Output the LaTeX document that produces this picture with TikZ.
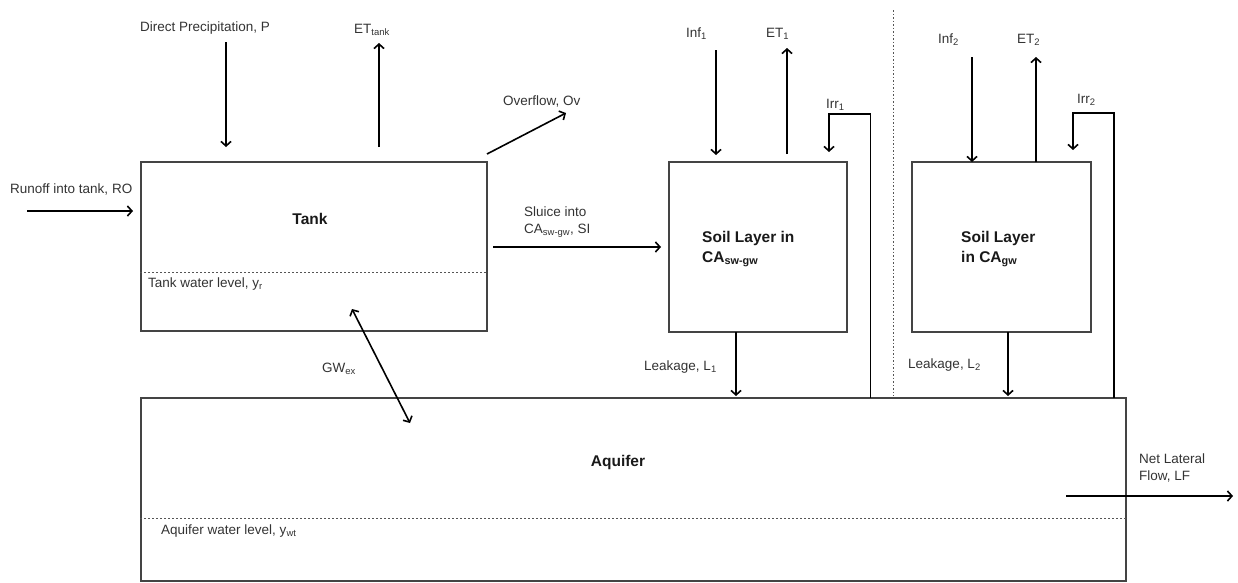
\documentclass[tikz,border=0pt]{standalone}
\usepackage{fontspec}
\setmainfont{Liberation Sans}
\usetikzlibrary{arrows.meta}
\definecolor{boxline}{HTML}{444444}
\definecolor{labeltext}{HTML}{333333}
\definecolor{dotline}{HTML}{555555}
\tikzset{
  box/.style={draw=boxline, line width=1.1pt, rectangle, inner sep=0pt},
  flow/.style={draw=black, line width=1.6pt, -{Straight Barb[length=4.5pt,width=10pt,line width=1.6pt]}},
  flowboth/.style={draw=black, line width=1.6pt, {Straight Barb[length=4.5pt,width=10pt,line width=1.6pt]}-{Straight Barb[length=4.5pt,width=10pt,line width=1.6pt]}},
  lbl/.style={font=\fontsize{13.5}{17}\selectfont, text=labeltext, inner sep=0pt, anchor=west, align=left},
  title/.style={font=\fontsize{15.5}{20}\selectfont\bfseries, text=black!90, inner sep=0pt, align=left},
  level/.style={draw=dotline, line width=0.7pt, dash pattern=on 2pt off 2pt},
  divider/.style={draw=dotline, line width=0.7pt, dash pattern=on 1.5pt off 2pt}
}
\begin{document}
\begin{tikzpicture}[x=1pt,y=-1pt]
\useasboundingbox (0,0) rectangle (1238,582);
% boxes
\node[box, minimum width=346pt, minimum height=169pt] (tank) at (314,246.5) {};
\node[box, minimum width=178pt, minimum height=170pt] (soil1) at (758,247) {};
\node[box, minimum width=179pt, minimum height=170pt] (soil2) at (1001.5,247) {};
\node[box, minimum width=985pt, minimum height=183pt] (aq) at (633.5,489.5) {};
% titles
\node[title, anchor=center] (tanklbl) at (310,219) {Tank};
\node[title, anchor=west] (soil1lbl) at (702,249) {Soil Layer in\\CA\textsubscript{sw-gw}};
\node[title, anchor=west] (soil2lbl) at (961,249) {Soil Layer\\in CA\textsubscript{gw}};
\node[title, anchor=center] (aqlbl) at (618,462) {Aquifer};
% water levels
\draw[level] (tank.west |- 0,272.5) coordinate (tl1) -- (tank.east |- 0,272.5) coordinate (tl2);
\draw[level] (aq.west |- 0,518) coordinate (al1) -- (aq.east |- 0,518) coordinate (al2);
\node[lbl] (tanklev) at (148,284) {Tank water level, y\textsubscript{r}};
\node[lbl] (aqlev) at (161,531) {Aquifer water level, y\textsubscript{wt}};
% divider
\coordinate (d1) at (893.5,10);
\coordinate (d2) at (893.5,396);
\draw[divider] (d1) -- (d2);
% labels
\node[lbl] (plbl) at (140,28) {Direct Precipitation, P};
\node[lbl] (etlbl) at (354,30) {ET\textsubscript{tank}};
\node[lbl] (ovlbl) at (503,101) {Overflow, Ov};
\node[lbl] (rolbl) at (10,189) {Runoff into tank, RO};
\node[lbl] (sllbl) at (524,222) {Sluice into\\CA\textsubscript{sw-gw}, SI};
\node[lbl] (gwlbl) at (322,369) {GW\textsubscript{ex}};
\node[lbl] (inf1lbl) at (686,34) {Inf\textsubscript{1}};
\node[lbl] (et1lbl) at (766,34) {ET\textsubscript{1}};
\node[lbl] (irr1lbl) at (826,105) {Irr\textsubscript{1}};
\node[lbl] (inf2lbl) at (938,40) {Inf\textsubscript{2}};
\node[lbl] (et2lbl) at (1017,40) {ET\textsubscript{2}};
\node[lbl] (irr2lbl) at (1077,100) {Irr\textsubscript{2}};
\node[lbl] (l1lbl) at (644,367) {Leakage, L\textsubscript{1}};
\node[lbl] (l2lbl) at (908,365) {Leakage, L\textsubscript{2}};
\node[lbl] (lflbl) at (1139,468) {Net Lateral\\Flow, LF};
% coordinates for free ends
\coordinate (p1) at (226,42);  \coordinate (p2) at (226,147);
\coordinate (e1) at (379,147); \coordinate (e2) at (379,43);
\coordinate (o1) at (487,154); \coordinate (o2) at (566,113);
\coordinate (r1) at (27,211);  \coordinate (r2) at (133,211);
\coordinate (s1) at (493,247); \coordinate (s2) at (661,247);
\coordinate (g1) at (352,309); \coordinate (g2) at (410,423);
\coordinate (i1a) at (716,50); \coordinate (i1b) at (716,155);
\coordinate (t1a) at (787,154); \coordinate (t1b) at (787,48);
\coordinate (q1a) at (870.5,398); \coordinate (q1b) at (870.5,114); \coordinate (q1c) at (829,114); \coordinate (q1d) at (829,152);
\coordinate (i2a) at (972,57); \coordinate (i2b) at (972,162);
\coordinate (t2a) at (1036,162); \coordinate (t2b) at (1036,57);
\coordinate (q2a) at (1114,398); \coordinate (q2b) at (1114,113); \coordinate (q2c) at (1073,113); \coordinate (q2d) at (1073,150);
\coordinate (k1a) at (736,332); \coordinate (k1b) at (736,396);
\coordinate (k2a) at (1008,332); \coordinate (k2b) at (1008,396);
\coordinate (f1) at (1066,496); \coordinate (f2) at (1233,496);
% connectors
\draw[flow] (p1) -- (p2);
\draw[flow] (e1) -- (e2);
\draw[flow] (o1) -- (o2);
\draw[flow] (r1) -- (r2);
\draw[flow] (s1) -- (s2);
\draw[flowboth] (g1) -- (g2);
\draw[flow] (i1a) -- (i1b);
\draw[flow] (t1a) -- (t1b);
\draw[flow] (q1a) -- (q1b) -- (q1c) -- (q1d);
\draw[flow] (i2a) -- (i2b);
\draw[flow] (t2a) -- (t2b);
\draw[flow] (q2a) -- (q2b) -- (q2c) -- (q2d);
\draw[flow] (k1a) -- (k1b);
\draw[flow] (k2a) -- (k2b);
\draw[flow] (f1) -- (f2);
\end{tikzpicture}
\end{document}
